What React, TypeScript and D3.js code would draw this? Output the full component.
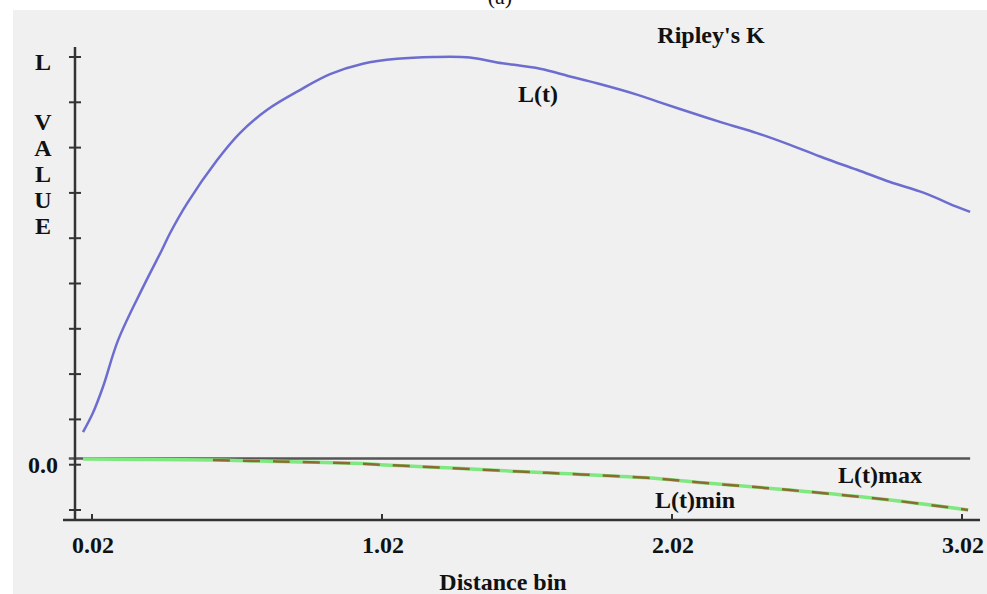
import React from 'react'
import * as d3 from 'd3'

// L(t) curve
const distBin = [-0.011, 0.023, 0.058, 0.11, 0.196, 0.261, 0.289, 0.348, 0.451, 0.53, 0.623, 0.737, 0.841, 0.954, 1.072, 1.196, 1.323, 1.417, 1.565, 1.668, 1.761, 1.899, 1.968, 2.082, 2.199, 2.313, 2.427, 2.544, 2.658, 2.772, 2.889, 3.003, 3.048]
const lValues = [0.72, 1.14, 1.72, 2.75, 3.92, 4.74, 5.11, 5.77, 6.72, 7.32, 7.83, 8.27, 8.62, 8.85, 8.96, 9.0, 8.99, 8.88, 8.74, 8.57, 8.42, 8.17, 8.02, 7.78, 7.54, 7.32, 7.06, 6.77, 6.51, 6.24, 6.0, 5.69, 5.58]

// envelope (green L(t)max, brown dashed L(t)min lies on it)
const envBin = [-0.011, 0.437, 0.599, 0.737, 0.927, 1.013, 1.244, 1.589, 1.934, 2.127, 2.427, 2.772, 3.041]
const envMax = [0.126, 0.104, 0.08, 0.06, 0.03, 0.0, -0.07, -0.18, -0.29, -0.4, -0.56, -0.78, -1.0]
const envMin = [0.126, 0.104, 0.08, 0.06, 0.03, 0.0, -0.07, -0.18, -0.29, -0.4, -0.56, -0.78, -1.0]
const minStart = 0.437

const refLevel = 0.137
const xTicks = [0.02, 1.02, 2.02, 3.02]
const yTicks = [-1, 0, 1, 2, 3, 4, 5, 6, 7, 8, 9]
const yTitle = ['V', 'A', 'L', 'U', 'E']

const W = 987
const H = 594
const font = '"Liberation Serif", "Times New Roman", serif'

export default function App() {
  const x = d3.scaleLinear().domain([0.02, 3.02]).range([92, 962])
  const y = d3.scaleLinear().domain([-1, 9]).range([510, 57])

  const line = d3.line<[number, number]>()
    .x(d => x(d[0]))
    .y(d => y(d[1]))
    .curve(d3.curveCatmullRom.alpha(0.5))

  const lPts = distBin.map((b, i) => [b, lValues[i]] as [number, number])
  const maxPts = envBin.map((b, i) => [b, envMax[i]] as [number, number])
  const minPts = envBin.map((b, i) => [b, envMin[i]] as [number, number]).filter(d => d[0] >= minStart)

  const txt = { fontFamily: font, fontWeight: 'bold' as const, fontSize: 24, fill: '#111' }
  const axisColor = '#333'

  return (
    <svg width={W} height={H} style={{ position: 'absolute', left: 0, top: 0 }}>
      <rect width={W} height={H} fill='#fff' />
      <rect x={13} y={10} width={W - 13} height={H - 10} fill='#f0f0f0' />
      <text x={500} y={4} textAnchor='middle' fontFamily={font} fontSize={22} fill='#111'>(a)</text>

      <text x={711} y={43} textAnchor='middle' {...txt}>Ripley's K</text>

      {/* reference level */}
      <line x1={x(-0.06)} x2={x(3.048)} y1={y(refLevel)} y2={y(refLevel)} stroke='#555' strokeWidth={2.5} />

      <path d={line(maxPts) || ''} fill='none' stroke='#80e880' strokeWidth={3.5} />
      <path d={line(minPts) || ''} fill='none' stroke='#8d6a32' strokeWidth={2.5} strokeDasharray='17,13' />
      <path d={line(lPts) || ''} fill='none' stroke='#6d6dcf' strokeWidth={2.5} />

      {/* y axis */}
      <line x1={75} x2={75} y1={47} y2={521} stroke={axisColor} strokeWidth={2.5} />
      {yTicks.map(t => (
        <line key={t} x1={69} x2={81} y1={y(t)} y2={y(t)} stroke={axisColor} strokeWidth={2} />
      ))}
      <text x={43} y={70} textAnchor='middle' {...txt}>L</text>
      {yTitle.map((c, i) => (
        <text key={i} x={43} y={130 + i * 26} textAnchor='middle' {...txt}>{c}</text>
      ))}
      <text x={58} y={y(0) + 8} textAnchor='end' {...txt}>0.0</text>

      {/* x axis */}
      <line x1={63} x2={980} y1={520} y2={520} stroke={axisColor} strokeWidth={2.5} />
      {xTicks.map(t => (
        <g key={t}>
          <line x1={x(t)} x2={x(t)} y1={514} y2={520} stroke={axisColor} strokeWidth={2} />
          <text x={x(t) + 1} y={553} textAnchor='middle' {...txt}>{t.toFixed(2)}</text>
        </g>
      ))}
      <text x={503} y={590} textAnchor='middle' {...txt}>Distance bin</text>

      <text x={538} y={102} textAnchor='middle' {...txt}>L(t)</text>
      <text x={880} y={483} textAnchor='middle' {...txt}>L(t)max</text>
      <text x={695} y={508} textAnchor='middle' {...txt}>L(t)min</text>
    </svg>
  )
}
